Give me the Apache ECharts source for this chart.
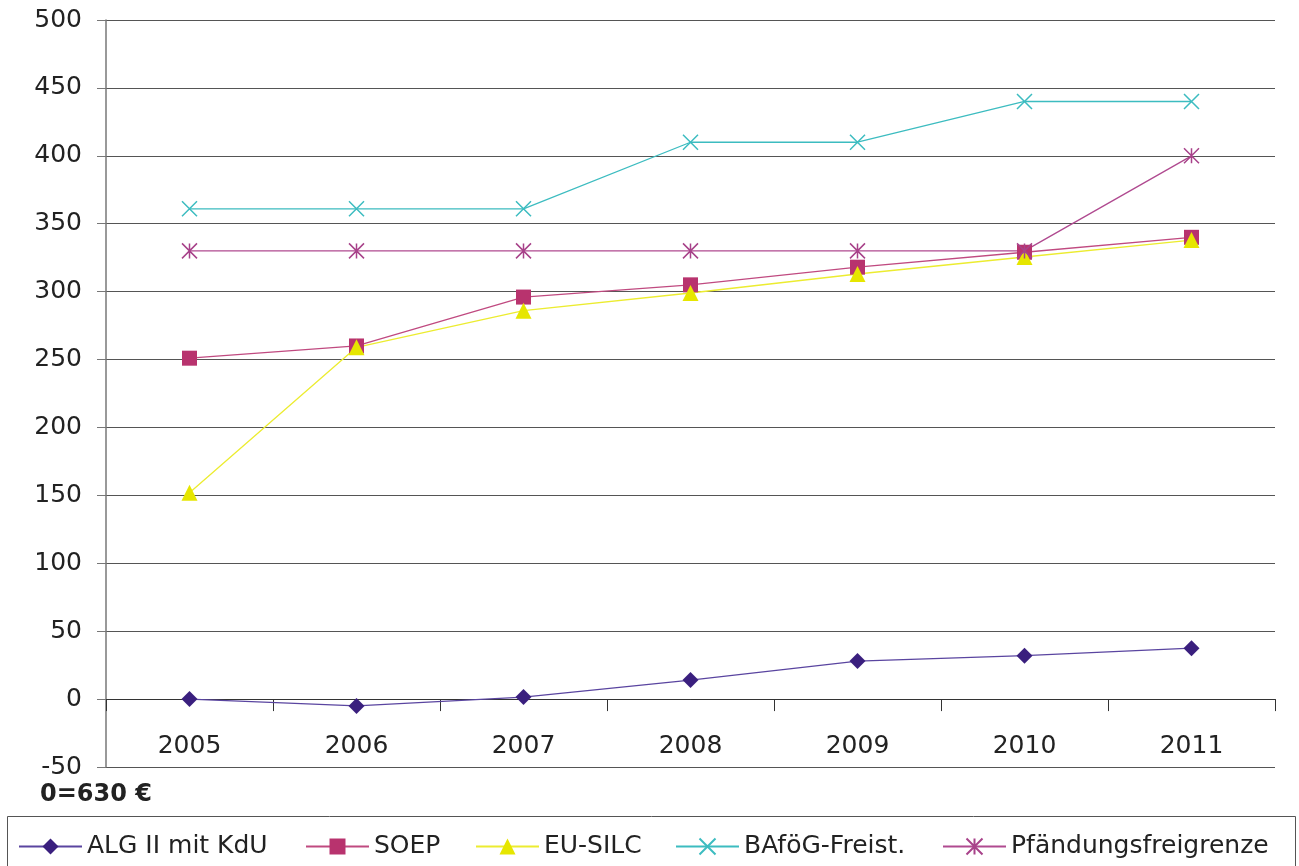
<!DOCTYPE html>
<html>
<head>
<meta charset="utf-8">
<script src="https://cdn.jsdelivr.net/npm/echarts@6/dist/echarts.min.js"></script>
<style>html,body{margin:0;padding:0;background:#fff;}#c{width:1299px;height:866px;}</style>
</head>
<body>
<div id="c"></div>
<script>
const years = ['2005','2006','2007','2008','2009','2010','2011'];
const algII = [0, -5, 1.5, 14, 28, 32, 37.5];
const soep = [251, 260, 296, 305, 318, 329, 340];
const euSilc = [152, 259, 286, 299, 313, 325.5, 338];
const bafoeg = [361, 361, 361, 410, 410, 440, 440];
const pfaendung = [330, 330, 330, 330, 330, 330, 400];
const seriesNames = ['ALG II mit KdU', 'SOEP', 'EU-SILC', 'BAföG-Freist.', 'Pfändungsfreigrenze'];

const font = '"DejaVu Sans", Verdana, sans-serif';
const crossPath = 'path://M0,0L10,10M10,0L0,10';
const starPath = 'path://M0,0L10,10M10,0L0,10M5,0L5,10';

function mk(name, data, lineColor, markColor, symbol, size, stroke) {
  return {
    name, type: 'line', data,
    symbol, symbolSize: size,
    lineStyle: { color: lineColor, width: 1.3 },
    itemStyle: stroke ? { color: markColor, borderColor: markColor, borderWidth: 1.5 } : { color: markColor, borderWidth: 0 },
    emphasis: { disabled: true },
    animation: false,
    z: 3
  };
}

const series = [
  mk(seriesNames[0], algII, '#5a45a0', '#3a1f7e', 'diamond', 16, false),
  mk(seriesNames[1], soep, '#c04a80', '#b8336e', 'rect', 15, false),
  mk(seriesNames[2], euSilc, '#ecec30', '#e6e600', 'triangle', 16, false),
  mk(seriesNames[3], bafoeg, '#3cbcc0', '#3cbcc0', crossPath, 15, true),
  mk(seriesNames[4], pfaendung, '#b04a90', '#a8428a', starPath, 15, true)
];

const legendLefts = [18, 305, 475, 675, 942];
const legends = seriesNames.map((n, i) => ({
  data: [n], left: legendLefts[i], top: 834, padding: 0,
  itemWidth: 63, itemHeight: 20, itemGap: 0,
  textStyle: { fontFamily: font, fontSize: 25, color: '#222' },
  selectedMode: false
}));

const chart = echarts.init(document.getElementById('c'), null, { renderer: 'canvas' });
chart.setOption({
  animation: false,
  backgroundColor: '#fff',
  grid: { left: 106, right: 24, top: 20, bottom: 99, containLabel: false },
  xAxis: {
    type: 'category', data: years, boundaryGap: true,
    axisLine: { onZero: true, lineStyle: { color: '#333', width: 1 } },
    axisTick: { show: true, length: 12, lineStyle: { color: '#333' } },
    axisLabel: { fontFamily: font, fontSize: 25, color: '#222', margin: -33 },
    splitLine: { show: false }
  },
  yAxis: {
    type: 'value', min: -50, max: 500, interval: 50,
    axisLine: { show: true, lineStyle: { color: '#777', width: 1.5 } },
    axisTick: { show: true, inside: false, length: 9, lineStyle: { color: '#777' } },
    axisLabel: { fontFamily: font, fontSize: 25, color: '#222', margin: 24 },
    splitLine: { show: true, lineStyle: { color: '#555', width: 1.2 } }
  },
  legend: legends,
  series,
  graphic: [
    { type: 'rect', shape: { x: 7.5, y: 816.5, width: 1288, height: 60 },
      style: { fill: 'none', stroke: '#555', lineWidth: 1 }, silent: true },
    { type: 'text', left: 40, top: 783,
      style: { text: '0=630 €', font: 'bold 24px ' + font, fill: '#222' } }
  ]
});
</script>
</body>
</html>
